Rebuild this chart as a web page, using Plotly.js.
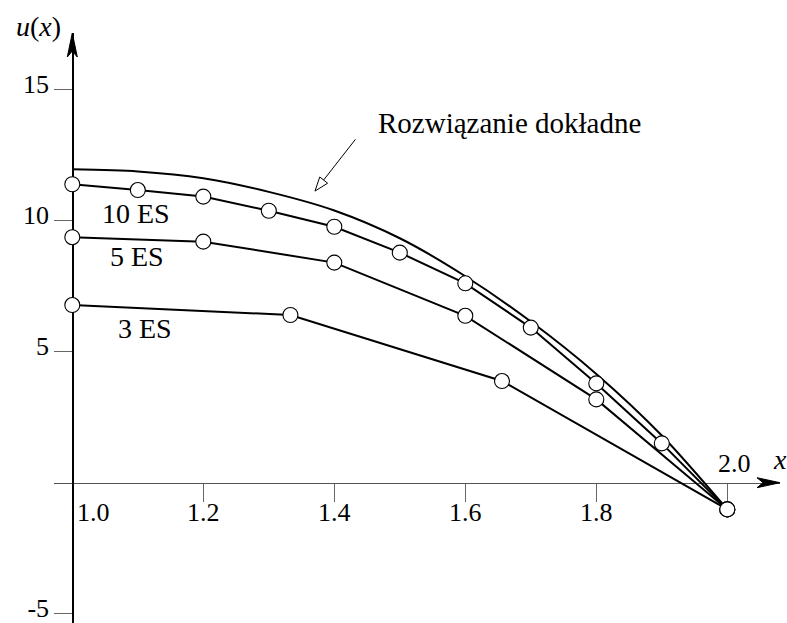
<!DOCTYPE html>
<html><head><meta charset="utf-8">
<script src="https://cdn.plot.ly/plotly-3.0.1.min.js"></script>
<style>html,body{margin:0;padding:0;background:#fff}#chart{width:787px;height:623px}</style>
</head><body><div id="chart"></div>
<script>
// ---- data ----
const exactX = [1.0, 1.1, 1.2, 1.3, 1.4, 1.5, 1.6, 1.7, 1.8, 1.9, 2.0];
const exactU = [11.96, 11.88, 11.62, 11.10, 10.39, 9.33, 7.88, 6.15, 4.15, 1.80, -1.02];
const es10X = [1.0, 1.1, 1.2, 1.3, 1.4, 1.5, 1.6, 1.7, 1.8, 1.9, 2.0];
const es10U = [11.39, 11.17, 10.92, 10.38, 9.77, 8.78, 7.61, 5.92, 3.79, 1.50, -1.02];
const es5X = [1.0, 1.2, 1.4, 1.6, 1.8, 2.0];
const es5U = [9.37, 9.20, 8.40, 6.37, 3.18, -1.02];
const es3X = [1.0, 1.333, 1.656, 2.0];
const es3U = [6.78, 6.40, 3.88, -1.02];
const xTickVals = [1.2, 1.4, 1.6, 1.8, 2.0];
const xTickText = ['1.2', '1.4', '1.6', '1.8', ''];
const yTickVals = [-5, 5, 10, 15];
const yTickText = ['-5', '5', '10', '15'];
const seriesNames = ['10 ES', '5 ES', '3 ES'];
const exactName = 'Rozwiązanie dokładne';
const xAxisLabel = 'x';
const yAxisLabel = 'u(x)';

// ---- layout ----
const xRange = [0.97206, 2.08046];
const yRange = [-5.355, 17.164];
const FONT = 'Liberation Serif, Times New Roman, serif';
const yZeroFrac = (0 - yRange[0]) / (yRange[1] - yRange[0]);
const yAxisFrac = (1.0 - xRange[0]) / (xRange[1] - xRange[0]);

const lineStyle = {color: '#000', width: 2};
const markerStyle = {symbol: 'circle', size: 15, color: '#fff', line: {color: '#000', width: 1.1}};

const traces = [
  {x: exactX, y: exactU, mode: 'lines', line: Object.assign({shape: 'spline', smoothing: 0.8}, lineStyle), name: exactName},
  {x: es3X, y: es3U, mode: 'lines+markers', line: lineStyle, marker: markerStyle, name: seriesNames[2]},
  {x: es5X, y: es5U, mode: 'lines+markers', line: lineStyle, marker: markerStyle, name: seriesNames[1]},
  {x: es10X, y: es10U, mode: 'lines+markers', line: lineStyle, marker: markerStyle, name: seriesNames[0]}
];

const txt = (s, x, y, size, opts) => Object.assign({text: s, x: x, y: y, xref: 'x', yref: 'y', showarrow: false,
  xanchor: 'center', yanchor: 'middle', font: {family: FONT, size: size, color: '#000'}}, opts || {});

const annotations = [
  txt(seriesNames[0], 1.0965, 10.28, 28),
  txt(seriesNames[1], 1.0988, 8.63, 28),
  txt(seriesNames[2], 1.111, 5.90, 28),
  txt(exactName, 1.668, 13.73, 29),
  {text: '', x: 1.3705, y: 11.13, ax: 1.434, ay: 13.16, axref: 'x', ayref: 'y', xref: 'x', yref: 'y',
   showarrow: true, arrowhead: 0, arrowwidth: 1, arrowcolor: '#000', standoff: 14},
  txt('1.0', 1.033, -1.12, 26),
  txt('2.0', 2.0115, 0.75, 26),
  txt('<i>' + xAxisLabel + '</i>', 1.0, 0.87, 28, {xref: 'paper'}),
  txt('<i>u</i>(<i>x</i>)', (38.5 - 54) / 726, 1 + 6 / 590, 28, {xref: 'paper', yref: 'paper'})
];

const shapes = [
  // y-axis arrowhead
  {type: 'path', xref: 'x', yref: 'paper', xsizemode: 'pixel', ysizemode: 'pixel', xanchor: 1.0, yanchor: 1,
   path: 'M 0 0 L -5 -24 L 0 -18 L 5 -24 Z', fillcolor: '#000', line: {color: '#000', width: 1}, layer: 'above'},
  // x-axis arrowhead
  {type: 'path', xref: 'x', yref: 'y', xsizemode: 'pixel', ysizemode: 'pixel', xanchor: xRange[1], yanchor: 0,
   path: 'M 0 0 L -23 5 L -17 0 L -23 -5 Z', fillcolor: '#000', line: {color: '#000', width: 1}, layer: 'above'},
  // open arrowhead pointing at the exact solution curve
  {type: 'path', xref: 'x', yref: 'y', xsizemode: 'pixel', ysizemode: 'pixel', xanchor: 1.3705, yanchor: 11.13,
   path: 'M 0 0 L 4.8 14.1 L 12.6 7.9 Z', fillcolor: '#fff', line: {color: '#000', width: 1}, layer: 'above'}
];

const layout = {
  width: 787, height: 623,
  margin: {l: 54, r: 7, t: 33, b: 0, pad: 0},
  paper_bgcolor: '#fff', plot_bgcolor: '#fff',
  showlegend: false,
  font: {family: FONT, size: 26, color: '#000'},
  xaxis: {range: xRange, anchor: 'free', position: yZeroFrac, showline: true, linecolor: '#555', linewidth: 1.3,
    showgrid: false, zeroline: false, ticks: 'outside', ticklen: 18, tickwidth: 1.3, tickcolor: '#666',
    tickmode: 'array', tickvals: xTickVals, ticktext: xTickText, tickfont: {family: FONT, size: 26, color: '#000'},
    ticklabelstandoff: -12, ticklabeloverflow: 'allow', layer: 'below traces', automargin: false},
  yaxis: {range: yRange, anchor: 'free', position: yAxisFrac, showline: true, linecolor: '#000', linewidth: 1.3,
    showgrid: false, zeroline: false, ticks: 'outside', ticklen: 18, tickwidth: 1.3, tickcolor: '#666',
    tickmode: 'array', tickvals: yTickVals, ticktext: yTickText, tickfont: {family: FONT, size: 26, color: '#000'},
    ticklabelshift: -6, ticklabeloverflow: 'allow', layer: 'below traces', automargin: false},
  annotations: annotations,
  shapes: shapes
};

Plotly.newPlot('chart', traces, layout, {staticPlot: true, displayModeBar: false});
</script>
</body></html>
